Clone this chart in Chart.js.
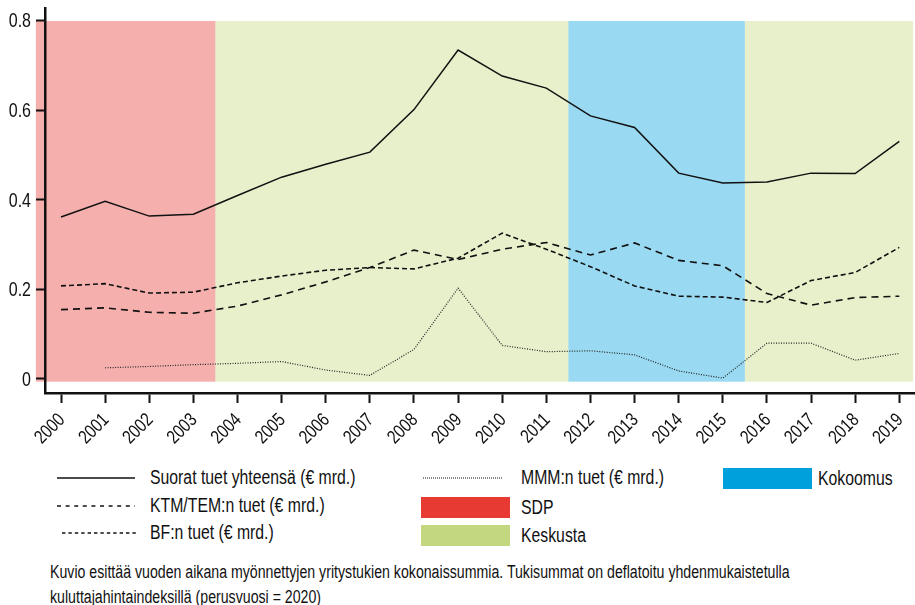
<!DOCTYPE html>
<html>
<head>
<meta charset="utf-8">
<script src="https://cdn.jsdelivr.net/npm/chart.js@4.4.1/dist/chart.umd.min.js"></script>
<style>
  body { margin: 0; background: #fff; font-family: "Liberation Sans", Arial, sans-serif; color: #111; }
  #wrap { position: relative; width: 915px; height: 605px; overflow: hidden; }
  #chart-box { position: absolute; left: 0; top: 0; width: 915px; height: 445px; }
  .leg { position: absolute; font-size: 19.5px; line-height: 22px; white-space: nowrap; transform-origin: 0 50%; transform: scaleX(0.81); }
  .sample { position: absolute; }
  .swatch { position: absolute; width: 89px; height: 21px; }
  .note { position: absolute; left: 50px; font-size: 18px; line-height: 22px; white-space: nowrap; transform-origin: 0 50%; }
</style>
</head>
<body>
<div id="wrap">
  <div id="chart-box"><canvas id="tuet-chart"></canvas></div>
  <div id="legend"></div>
  <div class="note" id="note1" style="top:561px">Kuvio esittää vuoden aikana myönnettyjen yritystukien kokonaissummia. Tukisummat on deflatoitu yhdenmukaistetulla</div>
  <div class="note" id="note2" style="top:586px">kuluttajahintaindeksillä (perusvuosi = 2020)</div>
</div>
<script>
const years = [2000, 2001, 2002, 2003, 2004, 2005, 2006, 2007, 2008, 2009, 2010, 2011, 2012, 2013, 2014, 2015, 2016, 2017, 2018, 2019];
const suorat = [0.362, 0.397, 0.364, 0.368, 0.410, 0.451, 0.480, 0.507, 0.602, 0.735, 0.677, 0.650, 0.588, 0.562, 0.460, 0.438, 0.440, 0.460, 0.459, 0.531];
const ktm = [0.155, 0.159, 0.149, 0.147, 0.163, 0.188, 0.217, 0.249, 0.288, 0.267, 0.290, 0.305, 0.277, 0.304, 0.265, 0.253, 0.191, 0.165, 0.182, 0.185];
const bf = [0.208, 0.213, 0.192, 0.194, 0.215, 0.230, 0.243, 0.249, 0.246, 0.270, 0.326, 0.290, 0.251, 0.208, 0.185, 0.183, 0.171, 0.220, 0.238, 0.294];
const mmm = [null, 0.025, 0.028, 0.032, 0.035, 0.039, 0.020, 0.008, 0.066, 0.203, 0.075, 0.061, 0.063, 0.054, 0.018, 0.002, 0.080, 0.080, 0.042, 0.057];
const yTicks = [0, 0.2, 0.4, 0.6, 0.8];

// hallituskaudet (taustavärit)
const periodStart = [1999.43, 2003.5, 2011.5, 2015.5];
const periodEnd = [2003.5, 2011.5, 2015.5, 2019.31];
const periodParty = ['SDP', 'Keskusta', 'Kokoomus', 'Keskusta'];
const parties = ['SDP', 'Keskusta', 'Kokoomus'];
const partyColors = ['#E63A32', '#C2D77E', '#00A0DC'];

const seriesLabels = ['Suorat tuet yhteensä (€ mrd.)', 'KTM/TEM:n tuet (€ mrd.)', 'BF:n tuet (€ mrd.)', 'MMM:n tuet (€ mrd.)'];

function toPoints(vals) {
  return years.map((x, i) => ({ x: x, y: vals[i] }));
}

function hexToRgba(hex, a) {
  const n = parseInt(hex.slice(1), 16);
  return `rgba(${(n >> 16) & 255},${(n >> 8) & 255},${n & 255},${a})`;
}

const fam = '"Liberation Sans", Arial, sans-serif';

const bandPlugin = {
  id: 'bands',
  beforeDraw(chart) {
    const { ctx, scales: { x, y } } = chart;
    const top = y.getPixelForValue(0.8);
    const bottom = y.getPixelForValue(-0.006);
    ctx.save();
    for (let i = 0; i < periodStart.length; i++) {
      const c = partyColors[parties.indexOf(periodParty[i])];
      const x0 = x.getPixelForValue(periodStart[i]);
      const x1 = x.getPixelForValue(periodEnd[i]);
      ctx.fillStyle = hexToRgba(c, 0.4);
      ctx.fillRect(x0, top, x1 - x0, bottom - top);
    }
    ctx.restore();
  }
};

// kapeat akselitekstit (alkuperäisessä kapea fontti)
const narrowTicks = {
  id: 'narrowTicks',
  afterDraw(chart) {
    const { ctx, scales: { x, y } } = chart;
    ctx.save();
    ctx.fillStyle = '#111';
    ctx.font = `19px ${fam}`;
    ctx.textAlign = 'right';
    ctx.textBaseline = 'middle';
    x.ticks.forEach((t, i) => {
      const px = x.getPixelForTick(i);
      ctx.save();
      ctx.translate(px + 1, x.top + 24);
      ctx.rotate(-Math.PI / 4);
      ctx.scale(0.8, 1);
      ctx.fillText(String(t.value), 0, 0);
      ctx.restore();
    });
    ctx.font = `20px ${fam}`;
    y.ticks.forEach((t, i) => {
      const py = y.getPixelForTick(i);
      ctx.save();
      ctx.translate(y.right - 14, py + 1);
      ctx.scale(0.8, 1);
      ctx.fillText(String(t.value), 0, 0);
      ctx.restore();
    });
    ctx.restore();
  }
};

const ctx = document.getElementById('tuet-chart').getContext('2d');

new Chart(ctx, {
  type: 'line',
  data: {
    datasets: [
      { label: seriesLabels[0], data: toPoints(suorat), borderColor: '#111', borderWidth: 1.5, pointRadius: 0 },
      { label: seriesLabels[1], data: toPoints(ktm), borderColor: '#111', borderWidth: 1.6, borderDash: [7, 5], pointRadius: 0 },
      { label: seriesLabels[2], data: toPoints(bf), borderColor: '#111', borderWidth: 1.6, borderDash: [5, 3], pointRadius: 0 },
      { label: seriesLabels[3], data: toPoints(mmm), borderColor: '#222', borderWidth: 1.2, borderDash: [1, 1.5], pointRadius: 0 }
    ]
  },
  options: {
    responsive: true,
    maintainAspectRatio: false,
    animation: false,
    layout: { padding: { top: 8, right: 0, left: 0, bottom: 0 } },
    plugins: { legend: { display: false }, tooltip: { enabled: false } },
    scales: {
      x: {
        type: 'linear',
        min: 1999.637,
        max: 2019.356,
        afterBuildTicks: s => { s.ticks = years.map(v => ({ value: v })); },
        afterFit: s => { s.height = 52; s.paddingLeft = 0; s.paddingRight = 0; },
        ticks: { display: false },
        grid: { drawOnChartArea: false, drawTicks: true, tickLength: 10, tickWidth: 2, tickColor: '#111' },
        border: { display: true, color: '#111', width: 2.5 }
      },
      y: {
        min: -0.0313,
        max: 0.829,
        afterBuildTicks: s => { s.ticks = yTicks.map(v => ({ value: v })); },
        afterFit: s => { s.width = 45; s.paddingTop = 0; s.paddingBottom = 0; },
        ticks: { display: false },
        grid: { drawOnChartArea: false, drawTicks: true, tickLength: 9, tickWidth: 2, tickColor: '#111' },
        border: { display: true, color: '#111', width: 2.5 }
      }
    }
  },
  plugins: [bandPlugin, narrowTicks]
});

// selite
const legend = document.getElementById('legend');
const lineItems = [
  { label: seriesLabels[0], x0: 57, x1: 135, y: 478, tx: 150, dash: '', w: 1.5 },
  { label: seriesLabels[1], x0: 57, x1: 135, y: 506, tx: 150, dash: '4 4.6', w: 1.5 },
  { label: seriesLabels[2], x0: 62, x1: 138, y: 533, tx: 150, dash: '3.4 3', w: 1.5 },
  { label: seriesLabels[3], x0: 423, x1: 503, y: 478, tx: 521, dash: '1 1', w: 1 }
];
for (const it of lineItems) {
  const svg = `<svg class="sample" style="left:${it.x0}px;top:${it.y - 3}px" width="${it.x1 - it.x0}" height="6"><line x1="0" y1="3" x2="${it.x1 - it.x0}" y2="3" stroke="#111" stroke-width="${it.w}" ${it.dash ? `stroke-dasharray="${it.dash}"` : ''}/></svg>`;
  legend.insertAdjacentHTML('beforeend', svg + `<div class="leg" style="left:${it.tx}px;top:${it.y - 12}px">${it.label}</div>`);
}
const boxItems = [
  { party: 'Kokoomus', x: 723, y: 468, tx: 818 },
  { party: 'SDP', x: 421, y: 497, tx: 521 },
  { party: 'Keskusta', x: 421, y: 525, tx: 521 }
];
for (const it of boxItems) {
  const c = partyColors[parties.indexOf(it.party)];
  legend.insertAdjacentHTML('beforeend', `<div class="swatch" style="left:${it.x}px;top:${it.y}px;background:${c}"></div><div class="leg" style="left:${it.tx}px;top:${it.y - 1}px">${it.party}</div>`);
}

// alaviite kavennetaan samaan leveyteen kuin alkuperäisessä
const note1 = document.getElementById('note1');
const k = 740 / note1.scrollWidth;
note1.style.transform = `scaleX(${k})`;
document.getElementById('note2').style.transform = `scaleX(${k})`;
</script>
</body>
</html>
